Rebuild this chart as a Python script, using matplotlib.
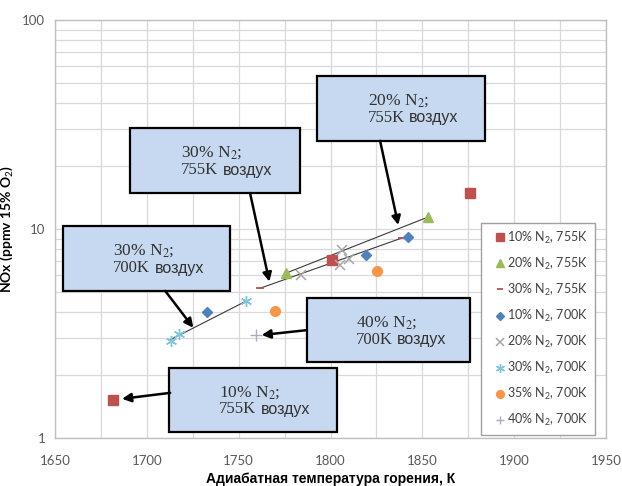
import numpy as np
import matplotlib
matplotlib.use("Agg")
import matplotlib.pyplot as plt
from matplotlib.patches import Rectangle
from matplotlib.ticker import FixedLocator, NullFormatter

plt.rcParams["mathtext.fontset"] = "custom"
plt.rcParams["mathtext.rm"] = "Lato"
plt.rcParams["mathtext.it"] = "Lato:italic"
plt.rcParams["mathtext.bf"] = "Lato:bold"

# ── data: adiabatic flame temperature (K) vs NOx (ppmv @ 15% O2) ──────────────
t_n10_755 = [1681.6, 1800.8, 1876.0]
nox_n10_755 = [1.52, 7.1, 14.9]

t_n20_755 = [1775.8, 1853.0]
nox_n20_755 = [6.15, 11.4]

t_n30_755 = [1761.5, 1838.8]
nox_n30_755 = [5.2, 9.05]

t_n10_700 = [1732.8, 1819.3, 1842.4]
nox_n10_700 = [4.0, 7.5, 9.2]

t_n20_700 = [1783.8, 1805.2, 1806.1, 1810.2]
nox_n20_700 = [6.0, 6.7, 7.9, 7.2]

t_n30_700 = [1713.0, 1717.7, 1753.8]
nox_n30_700 = [2.92, 3.15, 4.5]

t_n35_700 = [1769.8, 1825.2]
nox_n35_700 = [4.05, 6.3]

t_n40_700 = [1759.3]
nox_n40_700 = [3.1]

series_labels = ["10% N$_2$, 755K", "20% N$_2$, 755K", "30% N$_2$, 755K",
                 "10% N$_2$, 700K", "20% N$_2$, 700K", "30% N$_2$, 700K",
                 "35% N$_2$, 700K", "40% N$_2$, 700K"]

callout_pct = ["20%", "30%", "30%", "40%", "10%"]
callout_air = ["755K", "755K", "700K", "700K", "755K"]

# callout boxes (axes fraction: x0, y0, w, h), arrow tails (axes fraction), arrow tips (data)
box_rects = [(0.476, 0.711, 0.304, 0.156), (0.136, 0.586, 0.309, 0.156),
             (0.015, 0.352, 0.303, 0.154), (0.458, 0.182, 0.295, 0.152),
             (0.207, 0.015, 0.304, 0.152)]
arrow_tails = [(0.590, 0.711), (0.354, 0.586), (0.200, 0.352), (0.457, 0.258), (0.209, 0.108)]
arrow_tips = [(1836.9, 10.45), (1766.7, 5.6), (1725.3, 3.37), (1762.5, 3.11), (1686.5, 1.54)]

# ── figure ────────────────────────────────────────────────────────────────────
fig = plt.figure(figsize=(6.22, 4.86), dpi=100)
ax = fig.add_axes([55 / 622, 1 - 438 / 486, 551 / 622, 418 / 486])

ax.set_yscale("log")
ax.set_xlim(1650, 1950)
ax.set_ylim(1, 100)

grid_c = "#d9d9d9"
ax.xaxis.set_major_locator(FixedLocator(np.arange(1650, 1951, 50)))
ax.xaxis.set_minor_locator(FixedLocator(np.arange(1675, 1950, 50)))
ax.yaxis.set_major_locator(FixedLocator([1, 10, 100]))
ax.yaxis.set_major_formatter(plt.FuncFormatter(lambda v, _: f"{int(v)}"))
ax.yaxis.set_minor_locator(FixedLocator([m * d for d in (1, 10) for m in range(2, 10)]))
ax.yaxis.set_minor_formatter(NullFormatter())
ax.grid(True, which="both", color=grid_c, linewidth=0.9, zorder=0)
ax.set_axisbelow(True)
ax.tick_params(which="both", length=0, labelsize=9.5, labelcolor="#595959")
ax.tick_params(axis="y", pad=7)
ax.tick_params(axis="x", pad=12)
for lab in ax.get_xticklabels() + ax.get_yticklabels():
    lab.set_fontfamily("Lato")
for s in ax.spines.values():
    s.set_color("#bfbfbf")
    s.set_linewidth(1.0)

# trendlines
trend_c = "#3a3a3a"
ax.plot(t_n20_755, nox_n20_755, color=trend_c, lw=0.8, zorder=2)
ax.plot(t_n30_755, nox_n30_755, color=trend_c, lw=0.8, zorder=2)
k = np.polyfit(t_n30_700, np.log10(nox_n30_700), 1)
tt = np.array([min(t_n30_700), max(t_n30_700)])
ax.plot(tt, 10 ** np.polyval(k, tt), color=trend_c, lw=0.8, zorder=2)

# markers
ax.plot(t_n10_755, nox_n10_755, ls="none", marker="s", ms=6.5, color="#c0504d", label=series_labels[0], zorder=3)
ax.plot(t_n20_755, nox_n20_755, ls="none", marker="^", ms=7, color="#9bbb59", label=series_labels[1], zorder=3)
ax.plot(t_n30_755, nox_n30_755, ls="none", marker="_", ms=6, mew=1.3, color="#b5524c", label=series_labels[2], zorder=3)
ax.plot(t_n10_700, nox_n10_700, ls="none", marker="D", ms=5, color="#4f81bd", label=series_labels[3], zorder=3)
ax.plot(t_n20_700, nox_n20_700, ls="none", marker="x", ms=7, mew=1.1, color="#a6a6a6", label=series_labels[4], zorder=3)
ax.plot(t_n30_700, nox_n30_700, ls="none", marker=(6, 2, 0), ms=8, mew=1.0, color="#7fc4e0", label=series_labels[5], zorder=3)
ax.plot(t_n35_700, nox_n35_700, ls="none", marker="o", ms=7, color="#f79646", label=series_labels[6], zorder=3)
ax.plot(t_n40_700, nox_n40_700, ls="none", marker="+", ms=8, mew=1.0, color="#b0a8c8", label=series_labels[7], zorder=3)

# callouts
txt_c = "#333333"
for (x0, y0, w, h), pct, air, tail, tip in zip(box_rects, callout_pct, callout_air, arrow_tails, arrow_tips):
    ax.add_patch(Rectangle((x0, y0), w, h, transform=ax.transAxes, facecolor="#c6d9f0",
                           edgecolor="black", linewidth=1.6, zorder=4))
    tx = x0 + 0.30 * w
    ax.text(tx, y0 + 0.62 * h, f"{pct} N$_{{2}}$;", transform=ax.transAxes, fontsize=12.5,
            family="Liberation Serif", math_fontfamily="stix", color=txt_c, va="center", ha="left", zorder=6)
    t1 = ax.text(tx, y0 + 0.35 * h, air, transform=ax.transAxes, fontsize=12,
                 family="Liberation Serif", color=txt_c, va="center", ha="left", zorder=6)
    ax.annotate("воздух", xy=(1, 0.5), xycoords=t1, xytext=(3, 0), textcoords="offset points",
                fontsize=11.5, family="Liberation Sans", color=txt_c, va="center", ha="left", zorder=6)
    ax.annotate("", xy=tip, xycoords="data", xytext=tail, textcoords="axes fraction",
                arrowprops=dict(arrowstyle="-|>", color="black", lw=1.8, mutation_scale=13,
                                shrinkA=0, shrinkB=0), zorder=5)

leg = ax.legend(loc="upper left", bbox_to_anchor=(0.7726, 0.515), borderaxespad=0,
                fancybox=False, framealpha=1, edgecolor="#a0a0a0", prop={"family": "Lato", "size": 9},
                handlelength=2.0, handletextpad=-0.45, labelspacing=0.8, borderpad=0.55, markerscale=0.8)
leg.get_frame().set_linewidth(1.0)
leg.set_zorder(7)
for t in leg.get_texts():
    t.set_color("#404040")

ax.set_xlabel("Адиабатная температура горения, К", fontsize=10, fontweight="bold",
              family="Liberation Sans", labelpad=4)
ax.set_ylabel("NOx (ppmv 15% O$_2$)", fontsize=10, fontweight="bold", family="Lato")
ax.yaxis.set_label_coords(-0.072, 0.5)

fig.savefig("out.png", dpi=100)
